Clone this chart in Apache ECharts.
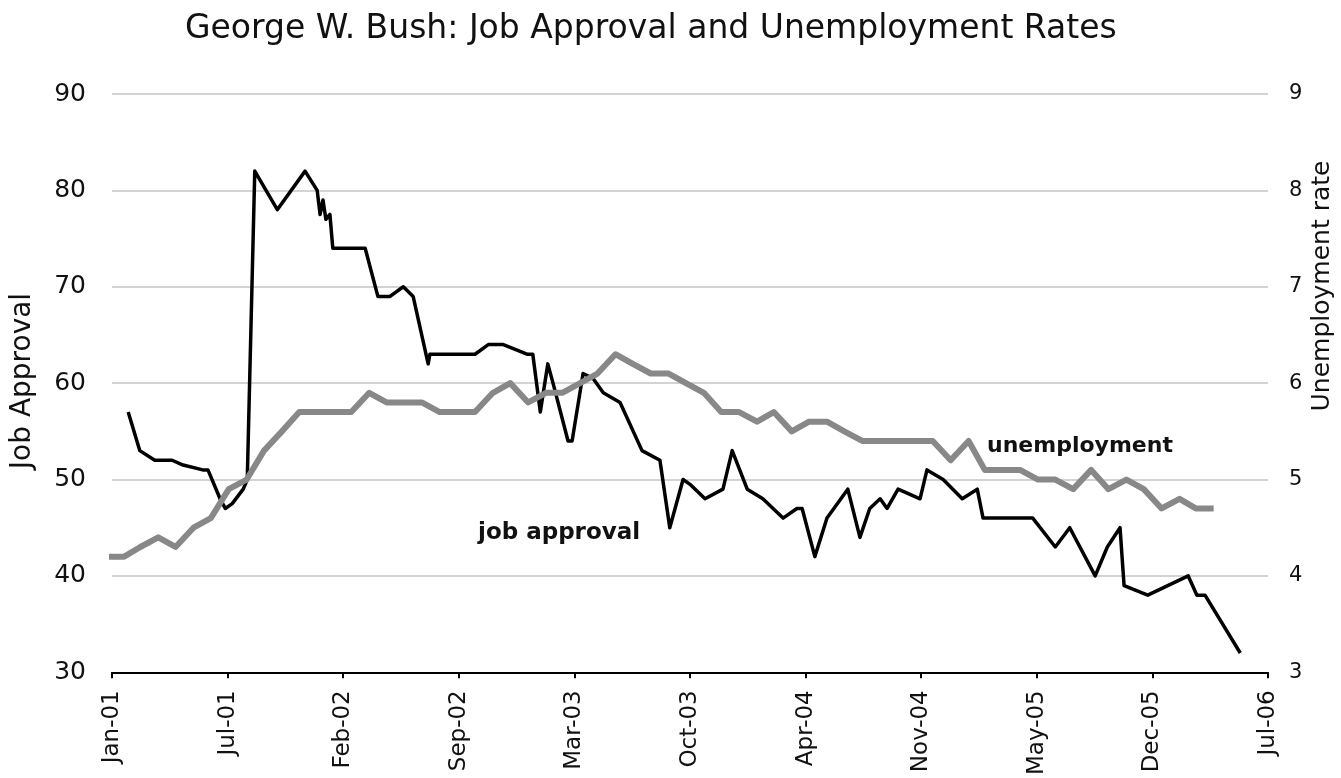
<!DOCTYPE html>
<html>
<head>
<meta charset="utf-8">
<title>George W. Bush: Job Approval and Unemployment Rates</title>
<script src="https://cdn.jsdelivr.net/npm/echarts@6/dist/echarts.min.js"></script>
<style>
  html, body { margin: 0; padding: 0; background: #fff; }
  #main { width: 1341px; height: 778px; }
</style>
</head>
<body>
<div id="main"></div>
<script>
// x axis runs in days; it starts on 11 Jan 2001 (day 10) and ticks every 200 days
const axisStartDay = 10
const tickLabels = ['Jan-01', 'Jul-01', 'Feb-02', 'Sep-02', 'Mar-03', 'Oct-03',
  'Apr-04', 'Nov-04', 'May-05', 'Dec-05', 'Jul-06']

// monthly unemployment rate, Jan 2001 .. Apr 2006
const unemployment = [
  4.2, 4.2, 4.3, 4.4, 4.3, 4.5, 4.6, 4.9, 5.0, 5.3, 5.5, 5.7,
  5.7, 5.7, 5.7, 5.9, 5.8, 5.8, 5.8, 5.7, 5.7, 5.7, 5.9, 6.0,
  5.8, 5.9, 5.9, 6.0, 6.1, 6.3, 6.2, 6.1, 6.1, 6.0, 5.9, 5.7,
  5.7, 5.6, 5.7, 5.5, 5.6, 5.6, 5.5, 5.4, 5.4, 5.4, 5.4, 5.4,
  5.2, 5.4, 5.1, 5.1, 5.1, 5.0, 5.0, 4.9, 5.1, 4.9, 5.0, 4.9,
  4.7, 4.8, 4.7, 4.7
]

// job approval polls: day counted from 1 Jan 2001, and the value
const approvalDay = [38, 58, 84, 114, 133, 167, 176, 197, 206, 218,
  237, 244, 257, 296, 344, 365, 370, 375, 380, 387,
  392, 448, 470, 491, 514, 531, 557, 560, 638, 661,
  687, 728, 738, 751, 764, 773, 799, 806, 825, 842,
  860, 889, 927, 958, 975, 998, 1010, 1036, 1067, 1083,
  1109, 1136, 1171, 1195, 1204, 1226, 1247, 1283, 1304, 1321,
  1339, 1351, 1370, 1408, 1420, 1448, 1481, 1507, 1517, 1603,
  1642, 1667, 1711, 1732, 1754, 1761, 1802, 1872, 1887, 1901,
  1962]
const approval = [57, 53, 52, 52, 51.5, 51, 51, 48, 47, 47.5,
  49, 50, 82, 78, 82, 80, 77.5, 79, 77, 77.5,
  74, 74, 69, 69, 70, 69, 62, 63, 63, 64,
  64, 63, 63, 57, 62, 60, 54, 54, 61, 60.5,
  59, 58, 53, 52, 45, 50, 49.5, 48, 49, 53,
  49, 48, 46, 47, 47, 42, 46, 49, 44, 47,
  48, 47, 49, 48, 51, 50, 48, 49, 46, 46,
  43, 45, 40, 43, 45, 39, 38, 40, 38, 38,
  32]

const DAY = 864e5
function monthDay(i) {
  return (Date.UTC(2001, i, 1) - Date.UTC(2001, 0, 1)) / DAY
}

const font = 'DejaVu Sans'
const myChart = echarts.init(document.getElementById('main'))

const option = {
  animation: false,
  backgroundColor: '#fff',
  title: {
    text: 'George W. Bush: Job Approval and Unemployment Rates',
    left: 180,
    top: 8,
    textStyle: { fontFamily: font, fontSize: 33, fontWeight: 'normal', color: '#111' }
  },
  grid: { left: 112, right: 73, top: 94, bottom: 102 },
  xAxis: {
    type: 'value',
    min: 0,
    max: 2000,
    interval: 200,
    axisLine: { show: true, onZero: false, lineStyle: { color: '#000', width: 2 } },
    axisTick: { show: true, length: 6, lineStyle: { color: '#000', width: 2 } },
    axisLabel: {
      rotate: 90,
      margin: 18,
      fontFamily: font,
      fontSize: 23,
      color: '#111',
      formatter: function (v) { return tickLabels[Math.round(v / 200)] }
    },
    splitLine: { show: false }
  },
  yAxis: [
    {
      type: 'value',
      position: 'left',
      min: 30,
      max: 90,
      interval: 10,
      axisLine: { show: false },
      axisTick: { show: false },
      axisLabel: { margin: 26, fontFamily: font, fontSize: 25, color: '#111' },
      splitLine: { show: true, lineStyle: { color: '#c4c4c4', width: 1.5 } }
    },
    {
      type: 'value',
      position: 'right',
      min: 3,
      max: 9,
      interval: 1,
      axisLine: { show: false },
      axisTick: { show: false },
      axisLabel: { margin: 21, fontFamily: font, fontSize: 21, color: '#111' },
      splitLine: { show: false }
    }
  ],
  graphic: [
    {
      type: 'text', x: 23, y: 381, rotation: Math.PI / 2,
      style: { text: 'Job Approval', font: '28px "DejaVu Sans"', fill: '#111',
        textAlign: 'center', textVerticalAlign: 'middle' }
    },
    {
      type: 'text', x: 1322, y: 286, rotation: Math.PI / 2,
      style: { text: 'Unemployment rate', font: '25px "DejaVu Sans"', fill: '#111',
        textAlign: 'center', textVerticalAlign: 'middle' }
    },
    {
      type: 'text', x: 987, y: 446, z: 100,
      style: { text: 'unemployment', font: 'bold 22px "DejaVu Sans"', fill: '#111',
        textAlign: 'left', textVerticalAlign: 'middle' }
    },
    {
      type: 'text', x: 478, y: 533, z: 100,
      style: { text: 'job approval', font: 'bold 23px "DejaVu Sans"', fill: '#111',
        textAlign: 'left', textVerticalAlign: 'middle' }
    }
  ],
  series: [
    {
      name: 'job approval',
      type: 'line',
      yAxisIndex: 0,
      symbol: 'none',
      clip: true,
      lineStyle: { color: '#000', width: 3.5, join: 'round' },
      data: approvalDay.map(function (d, i) { return [d - axisStartDay, approval[i]] })
    },
    {
      name: 'unemployment',
      type: 'line',
      yAxisIndex: 1,
      symbol: 'none',
      clip: true,
      lineStyle: { color: '#888', width: 6, join: 'round' },
      data: unemployment.map(function (u, i) { return [monthDay(i) - axisStartDay, u] })
    }
  ]
}

myChart.setOption(option)
</script>
</body>
</html>
